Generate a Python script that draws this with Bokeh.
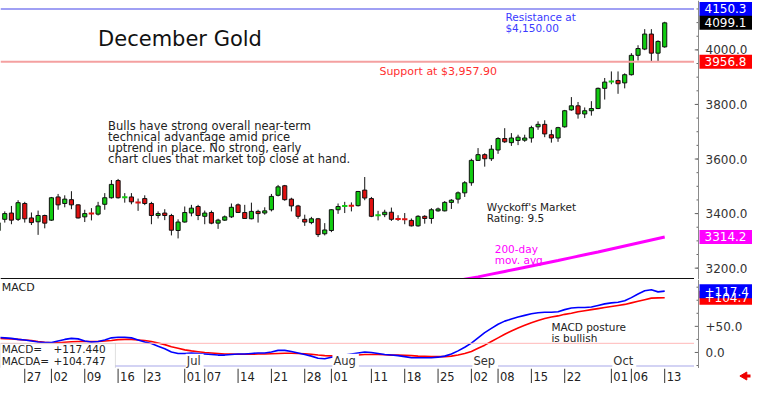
import numpy as np
from bokeh.plotting import figure
from bokeh.models import (Range1d, Span, Label, BoxAnnotation, ColumnDataSource)
from bokeh.layouts import column, row
from bokeh.embed import file_html
from bokeh.resources import INLINE
from bokeh.core.properties import value

# ---------------- data ----------------
day_index = list(range(-4, 97))   # trading-day index (0 = May 27)
opens = [3338, 3379, 3402, 3379, 3437, 3384, 3370, 3393, 3376, 3461,
         3437, 3451, 3432, 3388, 3401, 3398, 3434, 3458, 3521, 3459,
         3461, 3442, 3455, 3437, 3393, 3402, 3393, 3338, 3369, 3402,
         3426, 3390, 3404, 3365, 3376, 3388, 3432, 3404, 3381, 3408,
         3402, 3414, 3467, 3502, 3453, 3428, 3379, 3367, 3381, 3326,
         3338, 3414, 3427, 3430, 3429, 3486, 3455, 3393, 3396, 3405,
         3381, 3380, 3375, 3355, 3390, 3382, 3410, 3410, 3441, 3453,
         3476, 3513, 3595, 3616, 3601, 3633, 3675, 3660, 3668, 3669,
         3677, 3718, 3727, 3689, 3677, 3718, 3780, 3795, 3765, 3777,
         3785, 3859, 3882, 3888, 3879, 3909, 3980, 4003, 4058, 3988,
         4011]
highs = [3380, 3408, 3428, 3449, 3443, 3404, 3411, 3396, 3461, 3472,
         3467, 3482, 3434, 3414, 3420, 3443, 3475, 3523, 3527, 3475,
         3475, 3455, 3467, 3443, 3408, 3416, 3399, 3379, 3426, 3432,
         3432, 3411, 3411, 3381, 3393, 3437, 3437, 3432, 3440, 3414,
         3423, 3472, 3505, 3505, 3458, 3432, 3396, 3388, 3384, 3365,
         3416, 3437, 3443, 3441, 3483, 3534, 3461, 3410, 3414, 3422,
         3394, 3402, 3382, 3394, 3394, 3420, 3422, 3446, 3453, 3481,
         3519, 3601, 3640, 3621, 3651, 3680, 3713, 3695, 3689, 3689,
         3722, 3738, 3742, 3707, 3718, 3780, 3827, 3809, 3789, 3812,
         3862, 3897, 3921, 3921, 3914, 3988, 4017, 4076, 4076, 4035,
         4103]
lows = [3310, 3367, 3361, 3373, 3367, 3358, 3322, 3346, 3373, 3414,
        3423, 3416, 3382, 3369, 3375, 3393, 3414, 3455, 3455, 3440,
        3434, 3410, 3431, 3361, 3382, 3376, 3320, 3309, 3367, 3390,
        3376, 3361, 3361, 3344, 3373, 3384, 3402, 3381, 3379, 3367,
        3396, 3408, 3463, 3447, 3408, 3381, 3355, 3361, 3314, 3320,
        3332, 3399, 3402, 3408, 3426, 3449, 3387, 3375, 3387, 3373,
        3373, 3361, 3353, 3352, 3363, 3363, 3407, 3408, 3417, 3437,
        3461, 3502, 3593, 3572, 3593, 3619, 3659, 3648, 3651, 3663,
        3660, 3707, 3680, 3660, 3663, 3715, 3777, 3748, 3750, 3759,
        3783, 3818, 3874, 3839, 3859, 3906, 3961, 3999, 3956, 3957,
        4008]
closes = [3366, 3400, 3376, 3440, 3381, 3367, 3393, 3365, 3458, 3432,
          3453, 3432, 3384, 3400, 3399, 3428, 3458, 3507, 3458, 3461,
          3443, 3440, 3437, 3393, 3400, 3393, 3339, 3369, 3404, 3420,
          3393, 3402, 3365, 3376, 3388, 3423, 3404, 3382, 3408, 3400,
          3410, 3463, 3498, 3451, 3428, 3390, 3369, 3381, 3323, 3340,
          3414, 3426, 3429, 3428, 3481, 3457, 3390, 3395, 3405, 3379,
          3380, 3379, 3355, 3390, 3382, 3414, 3417, 3441, 3449, 3476,
          3513, 3595, 3616, 3601, 3636, 3675, 3663, 3677, 3680, 3677,
          3715, 3727, 3692, 3677, 3715, 3777, 3795, 3765, 3777, 3785,
          3859, 3882, 3886, 3876, 3909, 3980, 4005, 4058, 3988, 4031,
          4099.1]
macd = [29, 28, 27, 25, 24, 22, 20, 19, 19, 22,
        25, 27, 26, 22, 20, 21, 24, 28, 29, 29,
        28, 24, 20, 17, 12, 7, 1, -2, -2, -1,
        -2, -3, -4, -5, -5, -4, -3, -3, -2, -1,
        -1, 1, 4, 4, 2, -1, -4, -7, -11, -12,
        -9, -7, -5, -3, -1, 1, 0, -2, -4, -5,
        -6, -8, -10, -10, -10, -10, -9, -7, -3, 3,
        10, 18, 28, 38, 46, 54, 60, 64, 68, 71,
        74, 76, 77, 77, 78, 82, 85, 86, 86, 87,
        90, 93, 95, 96, 99, 105, 112, 118, 120, 116,
        117.44]
signal = [27, 26.5, 26, 25, 24, 23, 21, 19.5, 18.5, 18.5,
          19.5, 20.5, 21, 21, 21, 21, 22, 23, 24.5, 25,
          25, 24, 23, 21, 18, 15, 11, 8, 5, 3,
          1.5, 0, -1, -2, -3, -3, -3.5, -3.5, -3.5, -3,
          -3, -2.5, -2, -1.5, -1.5, -2, -2.5, -3.5, -5, -6,
          -6.5, -6.5, -6.5, -6, -5, -4, -4, -4, -4.5, -5,
          -5, -5.5, -6, -7, -7.5, -8, -8, -8, -7, -5,
          -2, 2, 8, 14, 21, 28, 35, 41, 47, 52,
          57, 61, 65, 68, 70, 73, 75, 78, 80, 82,
          84, 86, 88, 90, 92, 95, 98, 101, 104, 104.5,
          104.747]
ma_index = [64, 66, 68, 70, 72, 74, 76, 78, 80, 82, 84, 86, 88, 90, 92, 94, 96]
ma200 = [3150, 3159, 3168, 3178, 3188, 3198, 3208, 3218, 3228, 3238.5,
         3249, 3259.5, 3270.5, 3281.5, 3292.5, 3303.5, 3314.2]
tick_index = [0, 4, 9, 14, 18, 24, 27, 32, 37, 42, 46, 52, 57, 62, 67, 71, 76, 81, 88, 91, 96]
tick_labels = ["27", "02", "09", "16", "23", "01", "07", "14", "21", "28", "01",
               "11", "18", "25", "02", "08", "15", "22", "01", "06", "13"]
month_index = [24, 46, 67, 88]
month_labels = ["Jul", "Aug", "Sep", "Oct"]
price_ticks = [3200, 3400, 3600, 3800, 4000]
price_minor = list(range(3200, 4200, 50))
macd_ticks = [0, 50]
macd_tick_labels = ["0.0", "+50.0"]
macd_minor = [-25, 25, 75, 100, 125]
resistance = 4150.3
support = 3956.8
last_close = 4099.1
ma_last = 3314.2
macd_last = 117.440
signal_last = 104.747
macd_ref_line = 17.5

# ---------------- styling ----------------
FW = 694          # plot-frame width
AW = 58           # axis strip width
H_MAIN, H_MACD, H_DATE = 279, 89, 15
FONT = "DejaVu Sans"
GREEN = "#11cc11"
RED = "#e01010"
x_range = Range1d(-3.64, 100.47)


def fig(width, height, xr, yr):
    f = figure(width=width, height=height, x_range=xr, y_range=yr,
               output_backend="svg", toolbar_location=None,
               x_axis_location=None, y_axis_location=None,
               min_border_left=0, min_border_right=0,
               min_border_top=0, min_border_bottom=0)
    f.grid.visible = False
    f.outline_line_color = None
    f.background_fill_color = "white"
    f.border_fill_color = "white"
    return f


def txt(f, x, y, s, size="11px", color="#222", **kw):
    f.add_layout(Label(x=x, y=y, text=s, text_font=FONT, text_font_size=size,
                       text_color=color, text_align="left",
                       text_baseline="middle", **kw))


def axis_strip(f, ticks, labels, minor, box_vals, box_labels, box_colors):
    f.add_layout(Span(location=4, dimension="height", line_color="#8a8a8a", line_width=1))
    f.segment(x0=2, y0=minor, x1=4, y1=minor, line_color="#666", line_width=1)
    f.segment(x0=0, y0=ticks, x1=4, y1=ticks, line_color="#666", line_width=1)
    f.text(x=11, y=ticks, text=labels, text_font=value(FONT), text_font_size="12px",
           text_color="#333", text_align="left", text_baseline="middle")
    f.rect(x=31.5, y=box_vals, width=53, height=14, height_units="screen",
           fill_color=box_colors, line_color=None)
    f.text(x=10, y=box_vals, text=box_labels, text_font=value(FONT), text_font_size="12px",
           text_color="white", text_align="left", text_baseline="middle")


# ---------------- main price panel ----------------
p = fig(FW, H_MAIN, x_range, Range1d(3158.4, 4181))

o = np.array(opens, float)
h = np.array(highs, float)
l = np.array(lows, float)
c = np.array(closes, float)
xi = np.array(day_index, float)
up = c >= o
doji = np.abs(c - o) <= 4
body = ~doji

p.add_layout(Span(location=resistance, dimension="width", line_color="#a0a0f4", line_width=2))
p.add_layout(Span(location=support, dimension="width", line_color="#f4a0a0", line_width=2))

p.segment(x0=xi, y0=l, x1=xi, y1=h, line_color="#111", line_width=1)
src_b = ColumnDataSource(dict(x=xi[body], top=np.maximum(o, c)[body], bottom=np.minimum(o, c)[body],
                              color=np.where(up, GREEN, RED)[body]))
p.vbar(x="x", top="top", bottom="bottom", width=0.62, fill_color="color",
       line_color="#111", line_width=1, source=src_b)
dw = 0.4
src_d = ColumnDataSource(dict(x0=xi[doji] - dw, x1=xi[doji] + dw, y=((o + c) / 2)[doji],
                              color=np.where(up, GREEN, RED)[doji]))
p.segment(x0="x0", y0="y", x1="x1", y1="y", line_color="color", line_width=2, source=src_d)

p.line(ma_index, ma200, line_color="#ff00ff", line_width=3)
p.add_layout(Span(location=3160.2, dimension="width", line_color="#111", line_width=2))

txt(p, 11.0, 4040, "December Gold", size="21px", color="#111")
txt(p, 72.1, 4120, "Resistance at", size="10.5px", color="#3a3aff")
txt(p, 72.1, 4082, "$4,150.00", size="10.5px", color="#3a3aff")
txt(p, 53.2, 3921, "Support at $3,957.90", color="#ff3030")
for k, s in enumerate(["Bulls have strong overall near-term",
                       "technical advantage amid price",
                       "uptrend in place. No strong, early",
                       "chart clues that market top close at hand."]):
    txt(p, 12.5, 3722 - 40.5 * k, s, size="11.5px")
txt(p, 69.3, 3423, "Wyckoff's Market", size="10.5px")
txt(p, 69.3, 3383, "Rating: 9.5", size="10.5px")
txt(p, 70.5, 3269, "200-day", size="10.5px", color="#ff00ff")
txt(p, 70.5, 3231, "mov. avg", size="10.5px", color="#ff00ff")

pa = fig(AW, H_MAIN, Range1d(0, AW), p.y_range)
axis_strip(pa, price_ticks, [f"{t:.1f}" for t in price_ticks], price_minor,
           [resistance, last_close, support, ma_last],
           [f"{v:.1f}" for v in (resistance, last_close, support, ma_last)],
           ["#0000ff", "#000000", "#ff0000", "#ff00ff"])

# ---------------- MACD panel ----------------
m = fig(FW, H_MACD, x_range, Range1d(-30.7, 139.7))
m.add_layout(Span(location=macd_ref_line, dimension="width", line_color="#ffb8b8", line_width=1))
m.add_layout(Span(location=-26.0, dimension="width", line_color="#c4c4f0", line_width=1.5))
m.line(day_index, signal, line_color="#ff0000", line_width=1.6)
m.line(day_index, macd, line_color="#0000ff", line_width=1.6)

txt(m, -3.45, 125, "MACD")
txt(m, 79.0, 49, "MACD posture", size="10.5px")
txt(m, 79.0, 28, "is bullish", size="10.5px")
for xm, s in zip(month_index, month_labels):
    m.add_layout(Label(x=xm + 0.15, y=-16, text=s, text_font=FONT, text_font_size="11.5px",
                       text_color="#333", text_align="left", text_baseline="middle",
                       background_fill_color="white",
                       padding=dict(left=1, right=3, top=0, bottom=0)))

m.add_layout(BoxAnnotation(left=-3.64, right=13.6, top=17, bottom=-40,
                           fill_color="white", fill_alpha=1, line_color="#999", line_width=1))
txt(m, -3.45, 7, "MACD=", size="10.5px")
txt(m, 4.3, 7, f"+{macd_last:.3f}", size="10.5px")
txt(m, -3.45, -16, "MACDA=", size="10.5px")
txt(m, 4.3, -16, f"+{signal_last:.3f}", size="10.5px")

ma_ax = fig(AW, H_MACD, Range1d(0, AW), m.y_range)
axis_strip(ma_ax, macd_ticks, macd_tick_labels, macd_minor,
           [signal_last, macd_last],
           [f"+{signal_last:.1f}", f"+{macd_last:.1f}"],
           ["#ff0000", "#0000ff"])

# ---------------- date strip ----------------
d = fig(FW, H_DATE, x_range, Range1d(0, 1))
d.segment(x0=tick_index, y0=0, x1=tick_index, y1=1, line_color="#333", line_width=1)
d.text(x=[t + 0.3 for t in tick_index], y=[0.5] * len(tick_index), text=tick_labels,
       text_font=value(FONT), text_font_size="11.5px", text_color="#222",
       text_align="left", text_baseline="middle")

# small red arrow (pointing left) at the lower right corner
da = fig(AW, H_DATE, Range1d(0, AW), Range1d(0, 1))
da.segment(x0=[51], y0=[0.5], x1=[56], y1=[0.5], line_color="#ee0000", line_width=3)
da.scatter(x=[50], y=[0.5], marker="triangle", angle=np.pi / 2, size=8,
           fill_color="#ee0000", line_color="#ee0000")

layout = row(column(p, m, d, spacing=0), column(pa, ma_ax, da, spacing=0), spacing=0)
open("out.html", "w").write(file_html(layout, INLINE))
